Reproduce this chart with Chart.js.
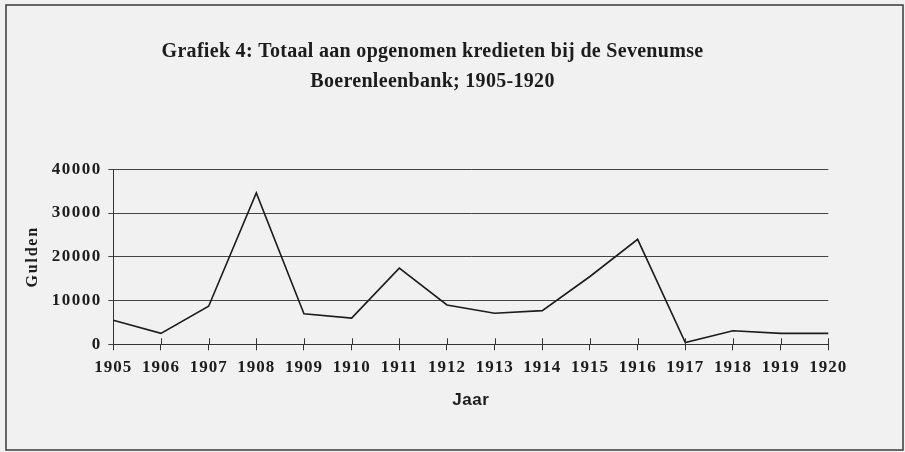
<!DOCTYPE html>
<html>
<head>
<meta charset="utf-8">
<script src="https://cdn.jsdelivr.net/npm/chart.js@4.4.1/dist/chart.umd.min.js"></script>
<style>
  html, body { margin: 0; padding: 0; background: #f1f1f1; }
  canvas { display: block; }
</style>
</head>
<body>
<canvas id="c" width="905" height="452"></canvas>
<script>
const years = ['1905','1906','1907','1908','1909','1910','1911','1912','1913','1914','1915','1916','1917','1918','1919','1920'];
const kredieten = [5500, 2500, 8700, 34600, 7000, 6000, 17400, 9000, 7100, 7700, 15500, 24000, 400, 3100, 2500, 2500];
const titleLines = ['Grafiek 4: Totaal aan opgenomen kredieten bij de Sevenumse', 'Boerenleenbank; 1905-1920'];
const yTitle = 'Gulden';
const xTitle = 'Jaar';

const ink = '#1c1c1c';

function withSpacing(obj, method, sp) {
  if (!obj || !obj[method] || obj[method]._ls) return;
  const orig = obj[method];
  const f = function (...a) {
    const c = this.ctx;
    const prev = c.letterSpacing;
    c.letterSpacing = sp;
    try { return orig.apply(this, a); } finally { c.letterSpacing = prev; }
  };
  f._ls = true;
  obj[method] = f;
}

const framePlugin = {
  id: 'frame',
  beforeDraw(chart) {
    const ctx = chart.ctx;
    ctx.save();
    ctx.fillStyle = '#f1f1f1';
    ctx.fillRect(0, 0, chart.width, chart.height);
    ctx.strokeStyle = '#3a3a3a';
    ctx.lineWidth = 1.5;
    ctx.strokeRect(6, 5, 897, 445);
    ctx.restore();
    withSpacing(chart.titleBlock, 'draw', '0.3px');
    withSpacing(chart.scales.x, 'drawLabels', '1px');
    withSpacing(chart.scales.y, 'drawLabels', '1.5px');
    withSpacing(chart.scales.y, 'drawTitle', '1.8px');
    withSpacing(chart.scales.x, 'drawTitle', '0.5px');
  },
  afterDraw(chart) {
    const s = chart.scales.x;
    const ctx = chart.ctx;
    ctx.save();
    ctx.strokeStyle = '#333';
    ctx.lineWidth = 1;
    for (let i = 0; i < s.ticks.length; i++) {
      const x = Math.round(s.getPixelForTick(i)) + 0.5;
      ctx.beginPath();
      ctx.moveTo(x, s.top - 6);
      ctx.lineTo(x, s.top);
      ctx.stroke();
    }
    ctx.restore();
  }
};

new Chart(document.getElementById('c'), {
  type: 'line',
  data: {
    labels: years,
    datasets: [{
      data: kredieten,
      borderColor: ink,
      borderWidth: 1.6,
      pointRadius: 0,
      tension: 0,
      fill: false
    }]
  },
  options: {
    responsive: false,
    animation: false,
    devicePixelRatio: 1,
    layout: { padding: { left: 0, right: 40, top: 0, bottom: 0 } },
    plugins: {
      legend: { display: false },
      tooltip: { enabled: false },
      title: {
        display: true,
        text: titleLines,
        color: ink,
        font: { family: '"Liberation Serif", "Times New Roman", serif', size: 20, weight: 'bold', lineHeight: 1.5 },
        padding: { top: 36.5, bottom: 72.8 }
      }
    },
    scales: {
      x: {
        type: 'category',
        offset: false,
        afterFit(s) { s.height = 107.7; },
        grid: { display: true, drawOnChartArea: false, drawTicks: true, tickLength: 6, color: '#333', lineWidth: 1 },
        border: { display: true, color: '#333', width: 1 },
        ticks: {
          color: ink,
          padding: 7,
          maxRotation: 0,
          autoSkip: false,
          font: { family: '"Liberation Serif", "Times New Roman", serif', size: 17, weight: 'bold' }
        },
        title: {
          display: true,
          text: xTitle,
          color: ink,
          font: { family: '"Liberation Sans", Arial, sans-serif', size: 17, weight: 'bold', lineHeight: 1.2 },
          padding: { top: 0, bottom: 41.8 }
        }
      },
      y: {
        min: 0,
        max: 40000,
        afterFit(s) { s.width = 113.3; },
        grid: { color: '#444', lineWidth: 1, tickLength: 5, drawTicks: true },
        border: { display: true, color: '#333', width: 1 },
        ticks: {
          stepSize: 10000,
          color: ink,
          padding: 6.6,
          callback: (v) => String(v),
          font: { family: '"Liberation Serif", "Times New Roman", serif', size: 17, weight: 'bold' }
        },
        title: {
          display: true,
          text: yTitle,
          color: ink,
          font: { family: '"Liberation Serif", "Times New Roman", serif', size: 16, weight: 'bold', lineHeight: 1.2 },
          padding: { top: 23.4, bottom: 0 }
        }
      },
      yr: {
        type: 'linear',
        position: 'right',
        display: true,
        afterFit(s) { s.width = 36.7; },
        grid: { display: false, drawTicks: false },
        border: { display: false },
        ticks: { display: false }
      }
    }
  },
  plugins: [framePlugin]
});
</script>
</body>
</html>
